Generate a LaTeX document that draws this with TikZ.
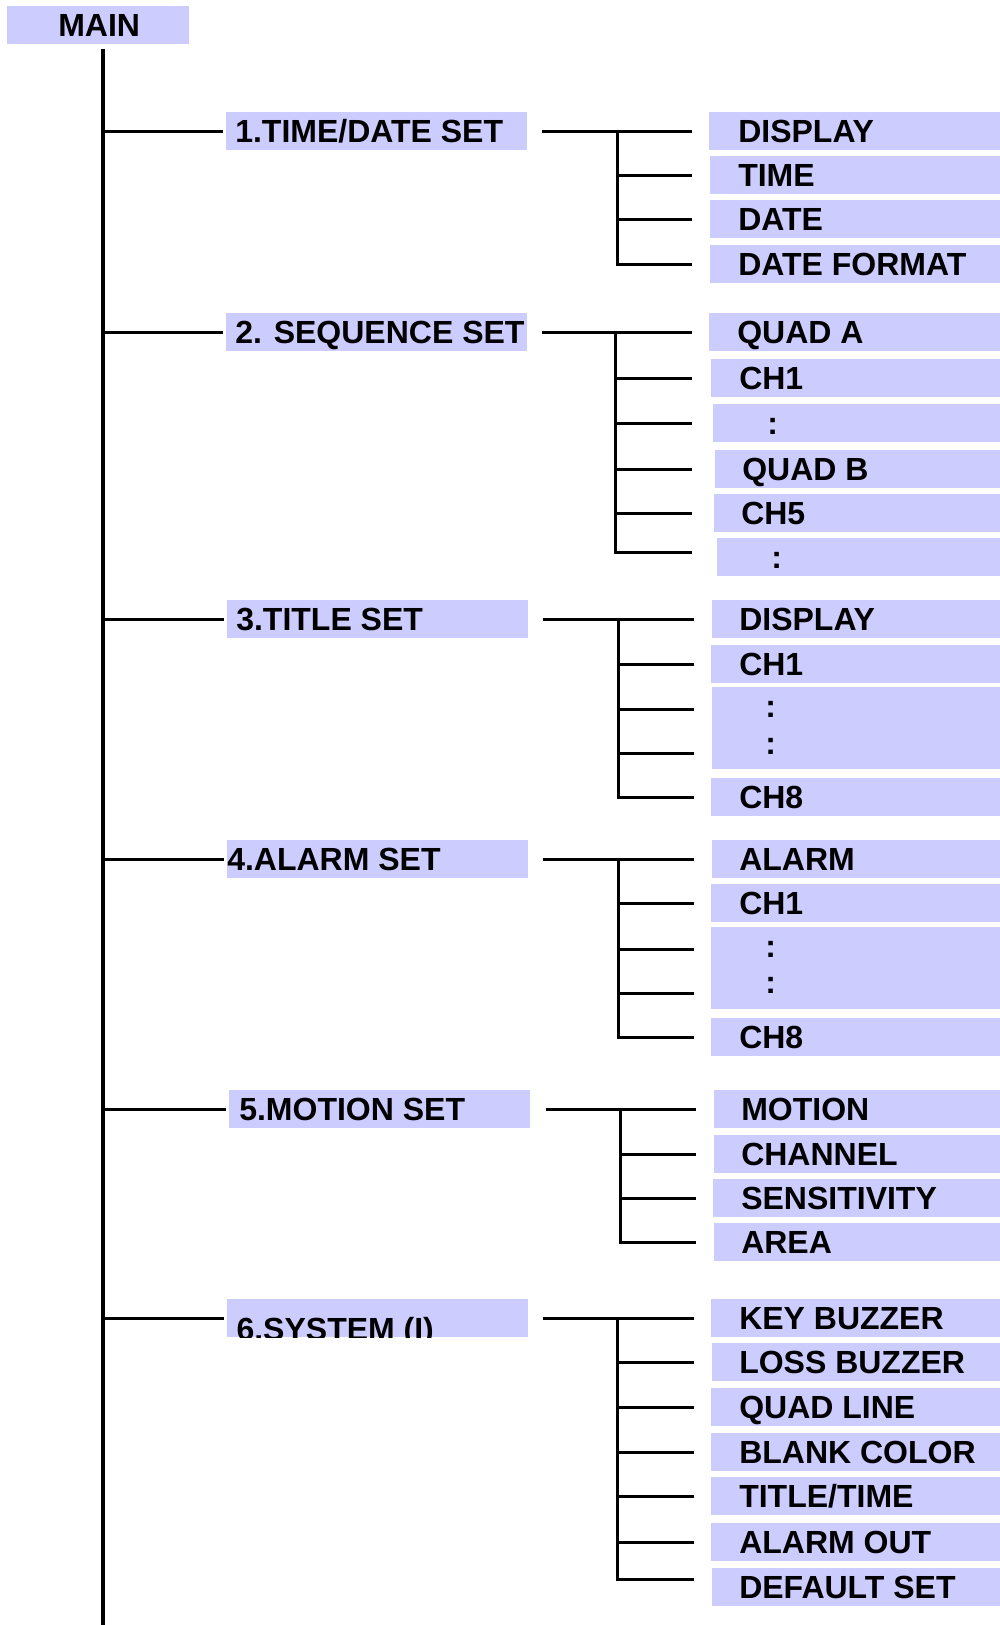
\documentclass[tikz,border=0pt]{standalone}
\usepackage{fontspec}
\setmainfont{Liberation Sans}
\usetikzlibrary{calc}
\definecolor{boxc}{HTML}{CCCCFF}
\newdimen\mypx \mypx=0.75pt
\newcommand\lbfont{\bfseries\fontsize{24pt}{28pt}\selectfont}
\tikzset{
  mb/.style={fill=boxc, inner sep=0pt, anchor=north west, text height=17.2pt, text depth=0pt, font=\lbfont},
  br/.style={line width=2.25pt},
  trunk/.style={line width=3pt},
}
\newcommand\menubox[7]{\node[mb, minimum height=#5*0.75pt] (#1) at (#2,#3) {\makebox[#4\mypx][l]{\hspace*{#6\mypx}#7}};}
\begin{document}
\begin{tikzpicture}[x=0.75pt, y=-0.75pt]
\useasboundingbox (0,0) rectangle (1000,1625);
% left column
\menubox{main}{7}{6}{182}{38}{51}{MAIN}
\menubox{b1}{226}{112}{301}{38}{9}{1.TIME/DATE SET}
\menubox{b2}{226}{313}{301}{38}{9}{2. SEQUENCE SET}
\menubox{b3}{227}{600}{301}{38}{9}{3.TITLE SET}
\menubox{b4}{227}{840}{301}{38}{0}{4.ALARM SET}
\menubox{b5}{229}{1090}{301}{38}{10}{5.MOTION SET}
\node[mb, minimum height=38*0.75pt, path picture={\node[anchor=base west, inner sep=0pt, font=\lbfont] at ($(path picture bounding box.north west)+(9,41)$) {6.SYSTEM (I)};}] (b6) at (227,1299) {\makebox[301\mypx]{}};
% group 1
\menubox{d1}{709}{112}{291}{38}{29}{DISPLAY}
\menubox{d2}{710}{156}{290}{38}{28}{TIME}
\menubox{d3}{710}{200}{290}{38}{28}{DATE}
\menubox{d4}{710}{245}{290}{38}{28}{DATE FORMAT}
% group 2
\menubox{s1}{709}{313}{291}{38}{28}{QUAD A}
\menubox{s2}{711}{359}{289}{38}{28}{CH1}
\menubox{s3}{713}{404}{287}{38}{54}{:}
\menubox{s4}{715}{450}{285}{38}{27}{QUAD B}
\menubox{s5}{714}{494}{286}{38}{27}{CH5}
\menubox{s6}{717}{538}{283}{38}{54}{:}
% group 3
\menubox{t1}{712}{600}{288}{38}{27}{DISPLAY}
\menubox{t2}{711}{645}{289}{38}{28}{CH1}
\node[mb, text height=0pt, text depth=0pt, minimum height=82*0.75pt] (t3) at (712,687) {\makebox[288\mypx][l]{\hspace*{53\mypx}\rlap{\raisebox{8.25pt}{:}}\raisebox{-19.5pt}{:}}};
\menubox{t4}{711}{778}{289}{38}{28}{CH8}
% group 4
\menubox{a1}{712}{840}{288}{38}{27}{ALARM}
\menubox{a2}{711}{884}{289}{38}{28}{CH1}
\node[mb, text height=0pt, text depth=0pt, minimum height=82*0.75pt] (a3) at (711,927) {\makebox[289\mypx][l]{\hspace*{54\mypx}\rlap{\raisebox{8.25pt}{:}}\raisebox{-19pt}{:}}};
\menubox{a4}{711}{1018}{289}{38}{28}{CH8}
% group 5
\menubox{m1}{714}{1090}{286}{38}{27}{MOTION}
\menubox{m2}{714}{1135}{286}{38}{27}{CHANNEL}
\menubox{m3}{713}{1179}{287}{38}{28}{SENSITIVITY}
\menubox{m4}{714}{1223}{286}{38}{27}{AREA}
% group 6
\menubox{y1}{711}{1299}{289}{38}{28}{KEY BUZZER}
\menubox{y2}{712}{1343}{288}{38}{27}{LOSS BUZZER}
\menubox{y3}{711}{1388}{289}{38}{28}{QUAD LINE}
\menubox{y4}{711}{1433}{289}{38}{28}{BLANK COLOR}
\menubox{y5}{711}{1477}{289}{38}{28}{TITLE/TIME}
\menubox{y6}{711}{1523}{289}{38}{28}{ALARM OUT}
\menubox{y7}{712}{1568}{288}{38}{27}{DEFAULT SET}
% helper coordinates
\coordinate (mx) at (103,0);
\coordinate (bot) at (0,1625);
\coordinate (j1) at (617,0); \coordinate (e1) at (692,0);
\coordinate (j2) at (615,0); \coordinate (e2) at (692,0);
\coordinate (j3) at (618,0); \coordinate (e3) at (694,0);
\coordinate (j4) at (618,0); \coordinate (e4) at (694,0);
\coordinate (j5) at (620,0); \coordinate (e5) at (696,0);
\coordinate (j6) at (617,0); \coordinate (e6) at (694,0);
\coordinate (s6p) at ($(s6.west)+(0,-5)$);
\coordinate (t3a) at ($(t3.west)+(0,-19)$);
\coordinate (t3b) at ($(t3.west)+(0,25)$);
\coordinate (a3a) at ($(a3.west)+(0,-19)$);
\coordinate (a3b) at ($(a3.west)+(0,25)$);
\coordinate (y7p) at ($(y7.west)+(0,-8)$);
% trunk
\draw[trunk] (main.south -| mx) ++(0,4) -- (mx |- bot);
% main branches
\foreach \b in {b1,b2,b3,b4,b5,b6}
  \draw[br] (\b.west -| mx) -- ([xshift=-2.25pt]\b.west);
% group 1
\draw[br] ([xshift=10.5pt]b1.east) -- (b1.east -| e1);
\foreach \c in {d2,d3,d4} \draw[br] (b1.east -| j1) |- (\c.west -| e1);
% group 2
\draw[br] ([xshift=10.5pt]b2.east) -- (b2.east -| e2);
\foreach \c in {s2,s3,s4,s5,s6p} \draw[br] (b2.east -| j2) |- (\c -| e2);
% group 3
\draw[br] ([xshift=10.5pt]b3.east) -- (b3.east -| e3);
\foreach \c in {t2,t3a,t3b,t4} \draw[br] (b3.east -| j3) |- (\c -| e3);
% group 4
\draw[br] ([xshift=10.5pt]b4.east) -- (b4.east -| e4);
\foreach \c in {a2,a3a,a3b,a4} \draw[br] (b4.east -| j4) |- (\c -| e4);
% group 5
\draw[br] ([xshift=11.25pt]b5.east) -- (b5.east -| e5);
\foreach \c in {m2,m3,m4} \draw[br] (b5.east -| j5) |- (\c -| e5);
% group 6
\draw[br] ([xshift=10.5pt]b6.east) -- (b6.east -| e6);
\foreach \c in {y2,y3,y4,y5,y6,y7p} \draw[br] (b6.east -| j6) |- (\c -| e6);
\end{tikzpicture}
\end{document}
